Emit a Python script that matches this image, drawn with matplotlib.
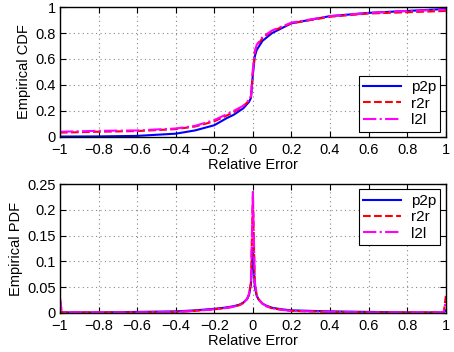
import matplotlib
matplotlib.use("Agg")
import matplotlib.pyplot as plt

plt.rcParams['font.family'] = ['Liberation Sans', 'DejaVu Sans']

labels = ['p2p', 'r2r', 'l2l']
colors = ['#0000ff', '#ff0000', '#ff00ff']
styles = ['-', '--', '-.']

x_ticks = [-1, -0.8, -0.6, -0.4, -0.2, 0, 0.2, 0.4, 0.6, 0.8, 1]
x_ticklabels = ['\u22121', '\u22120.8', '\u22120.6', '\u22120.4', '\u22120.2', '0',
                '0.2', '0.4', '0.6', '0.8', '1']
cdf_yticks = [0, 0.2, 0.4, 0.6, 0.8, 1]
cdf_yticklabels = ['0', '0.2', '0.4', '0.6', '0.8', '1']
pdf_yticks = [0, 0.05, 0.1, 0.15, 0.2, 0.25]
pdf_yticklabels = ['0', '0.05', '0.1', '0.15', '0.2', '0.25']

# CDF data
cdf_x = [-1.0, -0.8, -0.6, -0.4, -0.3, -0.2, -0.135, -0.1, -0.05, -0.02, -0.01,
         0.0, 0.01, 0.02, 0.05, 0.1, 0.2, 0.4, 0.6, 0.8, 1.0]
cdf_p2p = [0.003, 0.004, 0.008, 0.025, 0.05, 0.09, 0.145, 0.17, 0.22, 0.27, 0.30,
           0.48, 0.62, 0.67, 0.74, 0.80, 0.875, 0.93, 0.955, 0.97, 0.985]
cdf_r2r = [0.033, 0.04, 0.045, 0.06, 0.08, 0.12, 0.165, 0.19, 0.235, 0.28, 0.31,
           0.50, 0.65, 0.70, 0.76, 0.815, 0.875, 0.925, 0.95, 0.96, 0.97]
cdf_l2l = [0.04, 0.047, 0.05, 0.065, 0.085, 0.13, 0.175, 0.20, 0.24, 0.285, 0.315,
           0.52, 0.66, 0.71, 0.77, 0.82, 0.88, 0.93, 0.955, 0.97, 0.98]

# PDF data
pdf_x = [-1.0, -0.99, -0.98, -0.8, -0.6, -0.4, -0.3, -0.2, -0.15, -0.1, -0.07, -0.05,
         -0.03, -0.02, -0.01, 0.0, 0.01, 0.02, 0.03, 0.05, 0.07, 0.1, 0.15, 0.2,
         0.3, 0.4, 0.6, 0.8, 0.98, 0.99, 1.0]
pdf_p2p = [0.004, 0.001, 0.001, 0.001, 0.002, 0.003, 0.005, 0.008, 0.010, 0.013, 0.016, 0.020,
           0.027, 0.035, 0.055, 0.126, 0.050, 0.033, 0.026, 0.018, 0.014, 0.010, 0.007, 0.005,
           0.004, 0.003, 0.002, 0.001, 0.001, 0.002, 0.005]
pdf_r2r = [0.025, 0.001, 0.001, 0.001, 0.001, 0.002, 0.004, 0.007, 0.009, 0.012, 0.015, 0.019,
           0.027, 0.036, 0.060, 0.229, 0.058, 0.034, 0.026, 0.018, 0.013, 0.009, 0.006, 0.004,
           0.003, 0.002, 0.001, 0.001, 0.001, 0.003, 0.033]
pdf_l2l = [0.030, 0.001, 0.001, 0.001, 0.001, 0.002, 0.004, 0.007, 0.009, 0.012, 0.015, 0.019,
           0.027, 0.037, 0.062, 0.235, 0.060, 0.035, 0.026, 0.018, 0.013, 0.009, 0.006, 0.004,
           0.003, 0.002, 0.001, 0.001, 0.001, 0.003, 0.025]

fig = plt.figure(figsize=(4.54, 3.52), dpi=100)
ax1 = fig.add_axes([0.132, 0.611, 0.850, 0.369])
ax2 = fig.add_axes([0.132, 0.111, 0.850, 0.366])

def style(ax, ymax, yticks, yticklabels, ylabel):
    ax.set_xlim(-1, 1)
    ax.set_ylim(0, ymax)
    ax.set_xticks(x_ticks)
    ax.set_xticklabels(x_ticklabels)
    ax.set_yticks(yticks)
    ax.set_yticklabels(yticklabels)
    ax.grid(True, linestyle=(0, (1, 3)), color='#888888', linewidth=0.8)
    ax.tick_params(direction='in', top=True, right=True, labelsize=10.5, length=4, width=0.8)
    ax.tick_params(axis='x', pad=4.5)
    ax.tick_params(axis='y', pad=3)
    for s in ax.spines.values():
        s.set_linewidth(1.0)
    ax.set_xlabel('Relative Error', fontsize=10.5, labelpad=0.5)
    ax.set_ylabel(ylabel, fontsize=10.5, labelpad=3)

for ys, c, ls, lab in zip([cdf_p2p, cdf_r2r, cdf_l2l], colors, styles, labels):
    ax1.plot(cdf_x, ys, color=c, linestyle=ls, linewidth=1.5, label=lab)
for ys, c, ls, lab in zip([pdf_p2p, pdf_r2r, pdf_l2l], colors, styles, labels):
    ax2.plot(pdf_x, ys, color=c, linestyle=ls, linewidth=1.5, label=lab)

style(ax1, 1, cdf_yticks, cdf_yticklabels, 'Empirical CDF')
style(ax2, 0.25, pdf_yticks, pdf_yticklabels, 'Empirical PDF')

for ax, loc in [(ax1, 'lower right'), (ax2, 'upper right')]:
    leg = ax.legend(loc=loc, fontsize=11, fancybox=False, framealpha=1, edgecolor='black',
                    borderaxespad=0.35, handlelength=2.5, labelspacing=0.15, borderpad=0.3,
                    handletextpad=0.6)
    leg.get_frame().set_linewidth(0.8)

fig.savefig('out.png', dpi=100)
